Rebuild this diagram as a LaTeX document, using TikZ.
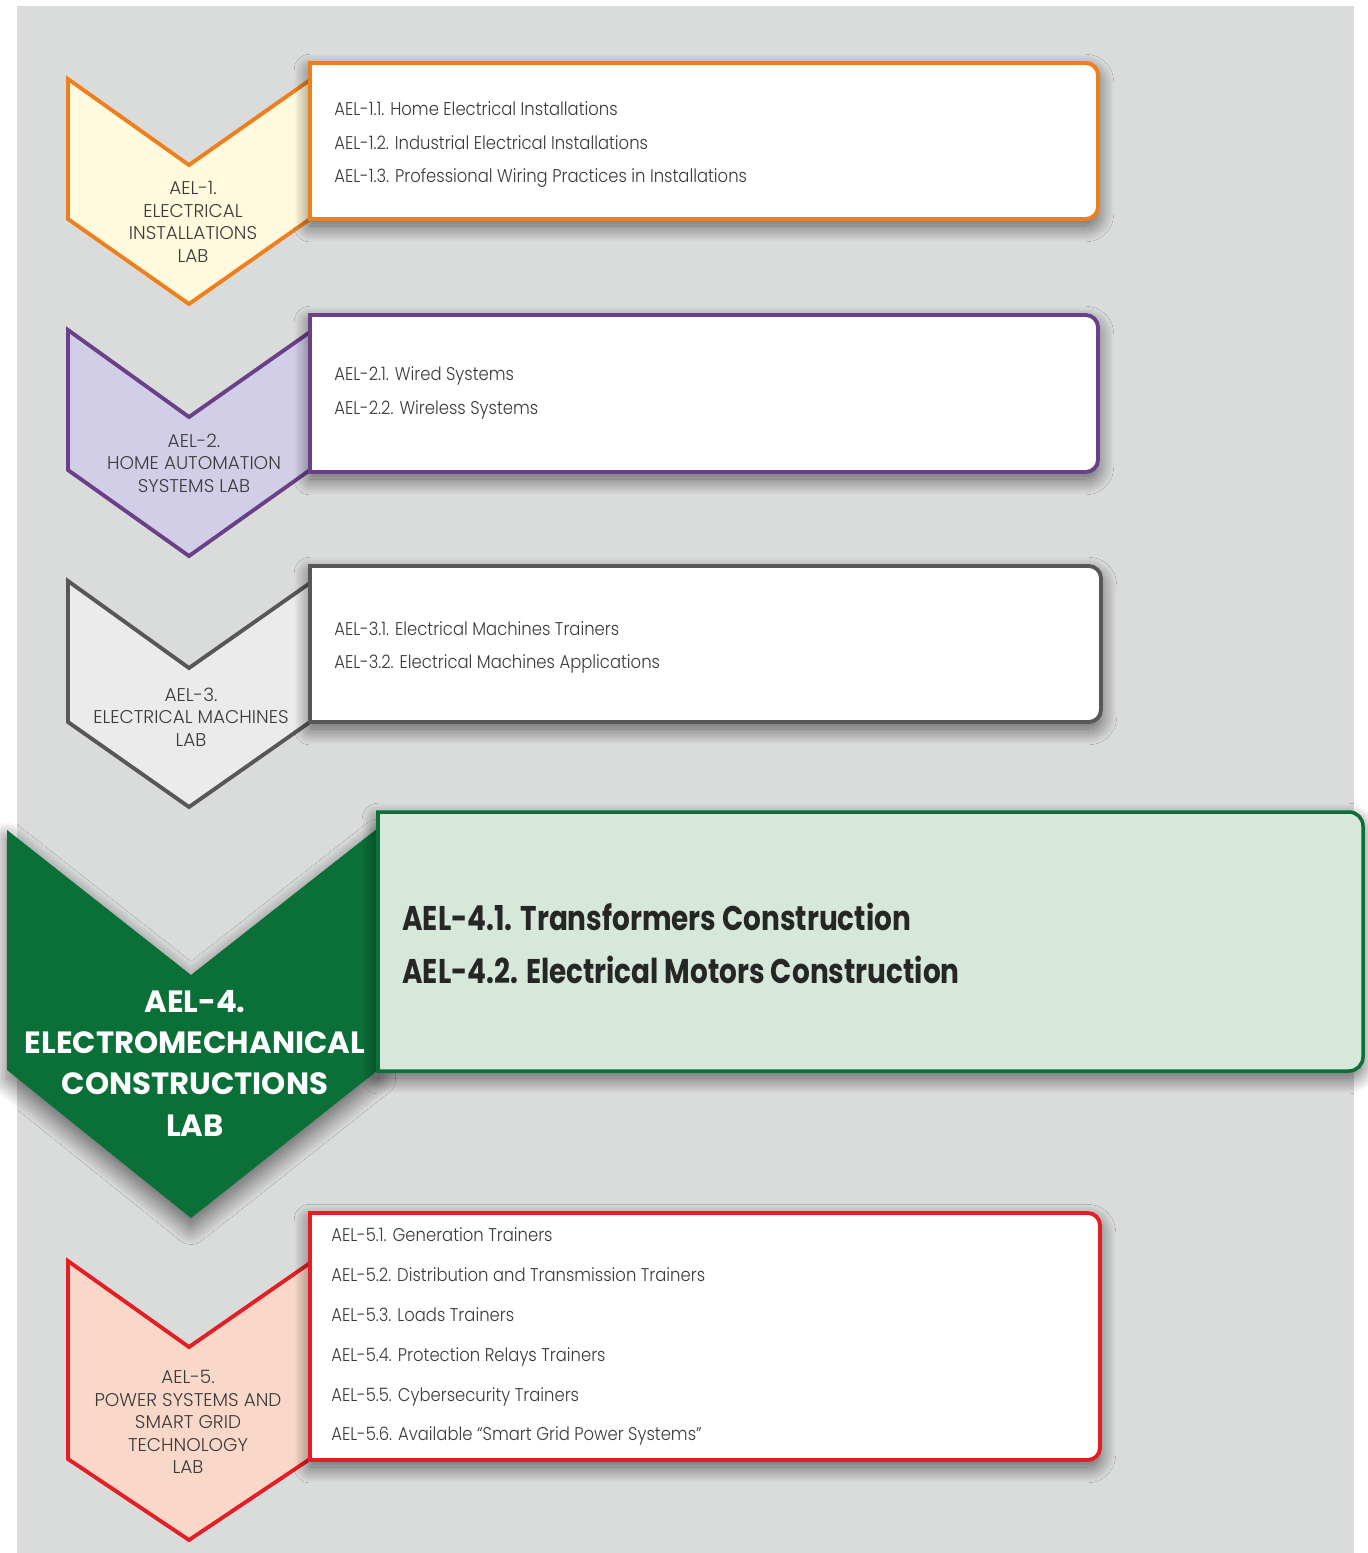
\documentclass[tikz,border=0pt]{standalone}
\usepackage{fontspec}
\setmainfont{Poppins}[UprightFont=* Light, BoldFont=* Bold]
\newfontfamily\topicfont{Poppins}[UprightFont=* Light, BoldFont=* Bold, FakeStretch=0.89]
\newfontfamily\bigtopicfont{Poppins}[UprightFont=* Bold, FakeStretch=0.815]
\usetikzlibrary{positioning,shadows.blur}

\definecolor{bggray}{HTML}{DADCDB}
\definecolor{txtgray}{HTML}{3A3A3A}
\definecolor{aelorange}{HTML}{EE7F1F}
\definecolor{aelorangefill}{HTML}{FFF9DD}
\definecolor{aelpurple}{HTML}{6A4089}
\definecolor{aelpurplefill}{HTML}{D3CEE7}
\definecolor{aelgray}{HTML}{575757}
\definecolor{aelgrayfill}{HTML}{EAEBEA}
\definecolor{aelgreen}{HTML}{0B6F38}
\definecolor{aelgreenfill}{HTML}{D6E8DA}
\definecolor{aelred}{HTML}{E31E25}
\definecolor{aelredfill}{HTML}{F9D8C9}

\tikzset{
    chevron/.style={line width=2.2pt, line join=miter},
    labbox/.style={line width=2.2pt, fill=white,
        blur shadow={shadow xshift=0pt, shadow yshift=-4pt, shadow blur radius=9pt, shadow blur steps=24, shadow opacity=60}},
    labname/.style={align=center, text=txtgray, font=\fontsize{10.5}{12.8}\selectfont},
    topic/.style={anchor=base west, inner sep=0pt, text=txtgray, font=\topicfont\fontsize{10.5}{12}\selectfont},
    bigtopic/.style={anchor=base west, inner sep=0pt, text=black!85, font=\bigtopicfont\fontsize{19.5}{24}\selectfont},
}

\begin{document}
\begin{tikzpicture}[x=0.02cm, y=-0.02cm]
    \useasboundingbox (0,0) rectangle (1367,1553);
    \fill[bggray] (17,6) rectangle (1354,1553);

    % AEL-1
    \draw[chevron, draw=aelorange, fill=aelorangefill] (68,79) -- (189,165) -- (310,80) -- (310,219) -- (189,304) -- (68,219) -- cycle;
    \draw[labbox, draw=aelorange] (310,63) [rounded corners=7] -- (1098,63) -- (1098,219) [sharp corners] -- (310,219) -- cycle;
    \node[labname] (lab1) at (193,222) {AEL-1.\\ELECTRICAL\\INSTALLATIONS\\LAB};
    \node[topic] (t11) at (334,115) {AEL-1.1. Home Electrical Installations};
    \node[topic] (t12) at (334,149) {AEL-1.2. Industrial Electrical Installations};
    \node[topic] (t13) at (334,182) {AEL-1.3. Professional Wiring Practices in Installations};

    % AEL-2
    \draw[chevron, draw=aelpurple, fill=aelpurplefill] (68,330) -- (189,417) -- (310,332) -- (310,470) -- (189,556) -- (68,470) -- cycle;
    \draw[labbox, draw=aelpurple] (310,315) [rounded corners=7] -- (1098,315) -- (1098,472) [sharp corners] -- (310,472) -- cycle;
    \node[labname] (lab2) at (194,463) {AEL-2.\\HOME AUTOMATION\\SYSTEMS LAB};
    \node[topic] (t21) at (334,380) {AEL-2.1. Wired Systems};
    \node[topic] (t22) at (334,414) {AEL-2.2. Wireless Systems};

    % AEL-3
    \draw[chevron, draw=aelgray, fill=aelgrayfill] (68,581) -- (189,668) -- (310,583) -- (310,722) -- (189,807) -- (68,722) -- cycle;
    \draw[labbox, draw=aelgray] (310,566) [rounded corners=7] -- (1101,566) -- (1101,722) [sharp corners] -- (310,722) -- cycle;
    \node[labname] (lab3) at (191,717) {AEL-3.\\ELECTRICAL MACHINES\\LAB};
    \node[topic] (t31) at (334,635) {AEL-3.1. Electrical Machines Trainers};
    \node[topic] (t32) at (334,668) {AEL-3.2. Electrical Machines Applications};

    % AEL-4
    \fill[aelgreen, blur shadow={shadow xshift=0pt, shadow yshift=-5pt, shadow blur radius=10pt, shadow blur steps=24, shadow opacity=60}] (7,830) -- (191,975) -- (378,828) -- (378,1070) -- (191,1218) -- (7,1070) -- cycle;
    \draw[labbox, draw=aelgreen, fill=aelgreenfill, line width=2pt] (378,812) [rounded corners=8] -- (1363,812) -- (1363,1071) [sharp corners] -- (378,1071) -- cycle;
    \node[labname, text=white, font=\fontsize{17.5}{23.5}\selectfont\bfseries] (lab4) at (195,1063) {AEL-4.\\ELECTROMECHANICAL\\CONSTRUCTIONS\\LAB};
    \node[bigtopic] (t41) at (402,930) {AEL-4.1. Transformers Construction};
    \node[bigtopic] (t42) at (402,983) {AEL-4.2. Electrical Motors Construction};

    % AEL-5
    \draw[chevron, draw=aelred, fill=aelredfill] (68,1261) -- (189,1347) -- (310,1263) -- (310,1459) -- (189,1540) -- (68,1459) -- cycle;
    \draw[labbox, draw=aelred] (310,1213) [rounded corners=7] -- (1100,1213) -- (1100,1460) [sharp corners] -- (310,1460) -- cycle;
    \node[labname] (lab5) at (188,1422) {AEL-5.\\POWER SYSTEMS AND\\SMART GRID\\TECHNOLOGY\\LAB};
    \node[topic] (t51) at (331,1241) {AEL-5.1. Generation Trainers};
    \node[topic] (t52) at (331,1281) {AEL-5.2. Distribution and Transmission Trainers};
    \node[topic] (t53) at (331,1321) {AEL-5.3. Loads Trainers};
    \node[topic] (t54) at (331,1361) {AEL-5.4. Protection Relays Trainers};
    \node[topic] (t55) at (331,1401) {AEL-5.5. Cybersecurity Trainers};
    \node[topic] (t56) at (331,1440) {AEL-5.6. Available “Smart Grid Power Systems”};
\end{tikzpicture}
\end{document}
